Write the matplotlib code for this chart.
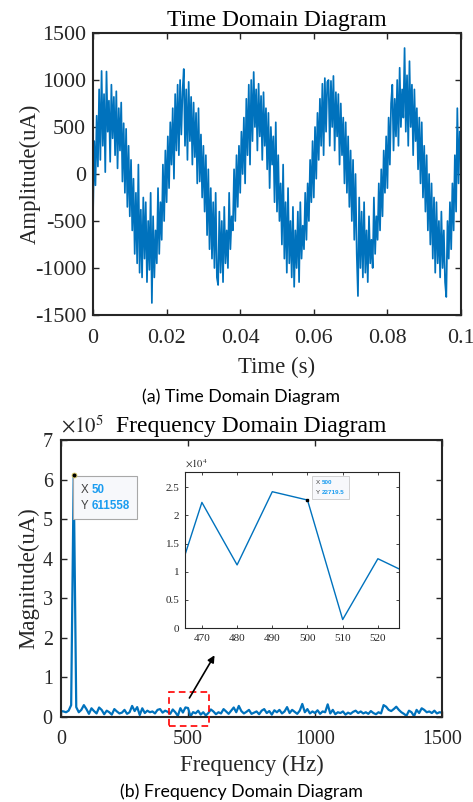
import numpy as np
import matplotlib
matplotlib.use('Agg')
import matplotlib.pyplot as plt
from matplotlib.patches import Rectangle
from matplotlib.ticker import FuncFormatter

# ---------------- data ----------------
# time-domain samples (uA), 3000 Hz sampling over 0.1 s
amplitude = [
    -450, 350, -120, 620, 80, 900, 150, 1096, 300, 850,
    20, 1090, 450, 780, 130, 950, 380, 820, 200, 880,
    60, 700, 250, 760, -80, 540, -200, 480, -350, 300,
    -450, 150, -600, -50, -850, -200, -950, 100, -1050, -380,
    -1100, -250, -900, -300, -1150, -500, -1020, -200, -1372, -450,
    -1100, -600, -950, -150, -850, -300, -700, 100, -500, 250,
    -300, 400, -150, 550, 100, 700, -50, 850, 250, 950,
    200, 1000, 420, 880, 1117, 300, 900, 150, 980, 350,
    820, 100, 760, 180, 650, -100, 700, -80, 420, -250,
    300, -400, 200, -650, 50, -800, -150, -900, -300, -1000,
    -200, -1100, -1181, -400, -1050, -500, -1150, -350, -950, -600,
    -1000, -200, -800, -450, -600, 50, -500, 200, -350, 300,
    -200, 450, 0, 600, -100, 800, 200, 950, 100, 1000,
    350, 1085, 500, 900, 250, 960, 400, 830, 150, 870,
    300, 700, 50, 650, -150, 500, 100, 400, -300, 550,
    -400, 200, -500, -100, -750, 100, -900, -300, -1050, -150,
    -950, -500, -1100, -350, -1200, -600, -1000, -400, -1150, -300,
    -900, -550, -800, -200, -700, -100, -500, 150, -300, 350,
    -250, 500, -50, 650, 150, 800, 300, 960, 200, 1020,
    450, 980, 1000, 300, 990, 500, 1043, 250, 870, 400,
    850, 100, 750, 200, 600, -100, 550, -200, 400, -350,
    250, -500, 150, -700, 0, -850, -1298, -250, -1000, -400,
    -1100, -300, -1050, -600, -1150, -450, -950, -700, -1000, -250,
    -850, -450, -700, -100, -600, 50, -450, 250, -200, 400,
    -150, 600, 100, 750, 950, 250, 800, 400, 1000, 300,
    1130, 500, 900, 600, 1340, 450, 1050, 300, 1200, 500,
    950, 200, 900, 350, 700, 50, 600, -100, 550, -250,
    300, -400, 200, -600, 0, -750, -100, -900, -250, -1050,
    -300, -950, -500, -1100, -400, -1000, -600, -1150, -1308, -500,
    -900, -300, -800, -100, -600, 200, -400, 700, -100, 450,
]
sample_rate = 3000

# single-sided spectrum magnitude (uA), 10 Hz resolution, 0..1500 Hz
fft_mag = [
    15000, 14000, 12000, 16000, 30000, 611558, 25000, 12000, 18000, 30000,
    20000, 8000, 22000, 15000, 9000, 24000, 18000, 7000, 16000, 12000,
    6000, 20000, 14000, 9000, 11000, 18000, 8000, 12000, 28000, 15000,
    25000, 5000, 22000, 10000, 16000, 12000, 14000, 9000, 18000, 20000,
    11000, 16000, 13000, 8000, 19000, 12000, 2900, 22300, 11200, 24200,
    22720, 1500, 12300, 9300, 16000, 6000, 12000, 4000, 10000, 19000,
    14000, 7000, 12000, 9000, 20000, 14000, 8000, 16000, 24000, 12000,
    28000, 15000, 9000, 13000, 18000, 8000, 11000, 14000, 7000, 16000,
    20000, 10000, 15000, 6000, 17000, 12000, 18000, 9000, 14000, 25000,
    10000, 18000, 13000, 8000, 16000, 33000, 12000, 20000, 9000, 14000,
    10000, 17000, 8000, 14000, 12000, 32000, 9000, 18000, 7000, 12000,
    10000, 14000, 6000, 11000, 8000, 13000, 16000, 10000, 14000, 9000,
    12000, 8000, 15000, 10000, 7000, 12000, 9000, 30000, 26000, 18000,
    15000, 20000, 26000, 18000, 12000, 8000, 3000, 16000, 12000, 2000,
    18000, 10000, 22000, 18000, 12000, 14000, 10000, 16000, 9000, 12000,
    11000,
]
freq_step = 10

time_ticks = [0, 0.02, 0.04, 0.06, 0.08, 0.1]
time_ticklabels = ['0', '0.02', '0.04', '0.06', '0.08', '0.1']
amp_ticks = [-1500, -1000, -500, 0, 500, 1000, 1500]
freq_ticks = [0, 500, 1000, 1500]
mag_ticks = [0, 1e5, 2e5, 3e5, 4e5, 5e5, 6e5, 7e5]
inset_xticks = [470, 480, 490, 500, 510, 520]
inset_yticks = [0, 5000, 10000, 15000, 20000, 25000]
tip_main = (50, 611558)
tip_inset = (500, 22719.5)

t = np.arange(len(amplitude)) / sample_rate
freq = np.arange(len(fft_mag)) * freq_step

# ---------------- style ----------------
W, H = 473, 802
SERIF = ['Liberation Serif', 'DejaVu Serif']
plt.rcParams['font.family'] = SERIF
plt.rcParams['mathtext.fontset'] = 'stix'
plt.rcParams['axes.unicode_minus'] = False
BLUE = '#0072BD'
DARK = '#262626'

fig = plt.figure(figsize=(W / 100, H / 100), dpi=100)


def px_axes(l, t_, r, b):
    return [l / W, 1 - b / H, (r - l) / W, (b - t_) / H]


def style_axes(ax, lw=1.5, size=4, width=1.0):
    for s in ax.spines.values():
        s.set_linewidth(lw)
        s.set_color(DARK)
    ax.tick_params(direction='in', top=True, right=True, length=size,
                   width=width, colors=DARK)


# ---------- top: time domain ----------
ax1 = fig.add_axes(px_axes(93, 33, 461, 315))
ax1.plot(t, amplitude, color=BLUE, lw=1.25)
ax1.set_xlim(0, 0.1)
ax1.set_ylim(-1500, 1500)
ax1.set_xticks(time_ticks)
ax1.set_xticklabels(time_ticklabels)
ax1.set_yticks(amp_ticks)
style_axes(ax1)
ax1.tick_params(axis='both', labelsize=15.8, labelcolor=DARK)
ax1.tick_params(axis='x', pad=10)
ax1.tick_params(axis='y', pad=5)
ax1.set_title('Time Domain Diagram', fontsize=17, pad=5, color='black')
ax1.set_xlabel('Time (s)', fontsize=16.4, color=DARK)
ax1.set_ylabel('Amplitude(uA)', fontsize=16.4, color=DARK)
ax1.xaxis.set_label_coords(0.5, -0.149)
ax1.yaxis.set_label_coords(-0.142, 0.5)

fig.text(241 / W, 1 - 397 / H, '(a) Time Domain Diagram', family='Lato',
         fontsize=12.8, ha='center', va='center', color='black')

# ---------- bottom: frequency domain ----------
ax2 = fig.add_axes(px_axes(61, 440, 442, 717))
ax2.plot(freq, fft_mag, color=BLUE, lw=1.6)
ax2.set_xlim(0, 1500)
ax2.set_ylim(0, 7e5)
ax2.set_xticks(freq_ticks)
ax2.set_yticks(mag_ticks)
ax2.yaxis.set_major_formatter(FuncFormatter(lambda v, p: f'{v / 1e5:g}'))
style_axes(ax2)
ax2.tick_params(axis='both', labelsize=14.4, labelcolor=DARK)
ax2.tick_params(axis='x', pad=9)
ax2.tick_params(axis='y', pad=6)
ax2.set_title('Frequency Domain Diagram', fontsize=17, pad=5.5, color='black')
ax2.set_xlabel('Frequency (Hz)', fontsize=16.4, color=DARK)
ax2.set_ylabel('Magnitude(uA)', fontsize=16.4, color=DARK)
ax2.xaxis.set_label_coords(0.5, -0.137)
ax2.yaxis.set_label_coords(-0.058, 0.5)
ax2.text(0.0, 1.01, r'$\times10^5$', transform=ax2.transAxes, fontsize=15,
         ha='left', va='bottom', color=DARK)

# data tip on main peak
ax2.plot(*tip_main, 'o', ms=3.5, color='black', mec='#d8c860', mew=0.6, zorder=5)
ax2.add_patch(Rectangle((0.0315, 0.715), 0.168, 0.155, transform=ax2.transAxes,
                        facecolor='#f7f8fb', edgecolor='#a8a8a8', lw=0.8, zorder=4))
for yy, lab, val in [(0.818, 'X', f'{tip_main[0]:g}'), (0.76, 'Y', f'{tip_main[1]:g}')]:
    ax2.text(0.052, yy, lab, transform=ax2.transAxes, family='Liberation Sans',
             fontsize=8.3, color='#404040', va='center', zorder=6)
    ax2.text(0.0815, yy, val, transform=ax2.transAxes, family='Liberation Sans',
             fontsize=8.3, color='#1a9cf0', fontweight='bold', va='center', zorder=6)

# zoom box and arrow
ax2.add_patch(Rectangle((425, -22000), 158, 84500, fill=False, ec='red',
                        ls=(0, (4, 2.5)), lw=1.2, clip_on=False, zorder=6))
ax2.annotate('', xy=(610, 162000), xytext=(500, 42000),
             arrowprops=dict(arrowstyle='-|>', color='black', lw=1.2,
                             mutation_scale=10), zorder=6)

fig.text(241 / W, 1 - 792 / H, '(b) Frequency Domain Diagram', family='Lato',
         fontsize=12.8, ha='center', va='center', color='black')

# ---------- inset ----------
ax3 = fig.add_axes(px_axes(185, 472, 399, 628))
ax3.plot(freq, fft_mag, color=BLUE, lw=1.0)
ax3.set_xlim(465.2, 526)
ax3.set_ylim(0, 27700)
ax3.set_xticks(inset_xticks)
ax3.set_yticks(inset_yticks)
ax3.yaxis.set_major_formatter(FuncFormatter(lambda v, p: f'{v / 1e4:g}'))
style_axes(ax3, lw=0.8, size=2.5, width=0.6)
ax3.tick_params(axis='both', labelsize=8, labelcolor=DARK, pad=4)
ax3.text(0.0, 1.01, r'$\times10^4$', transform=ax3.transAxes, fontsize=7.5,
         ha='left', va='bottom', color=DARK)
ax3.plot(*tip_inset, 's', ms=1.5, color='black', zorder=5)
ax3.add_patch(Rectangle((0.593, 0.827), 0.173, 0.147, transform=ax3.transAxes,
                        facecolor='#f7f8fb', edgecolor='#c0c0c0', lw=0.5, zorder=4))
for yy, lab, val in [(0.93, 'X', f'{tip_inset[0]:g}'), (0.87, 'Y', f'{tip_inset[1]:g}')]:
    ax3.text(0.61, yy, lab, transform=ax3.transAxes, family='Liberation Sans',
             fontsize=4.5, color='#404040', va='center', zorder=6)
    ax3.text(0.64, yy, val, transform=ax3.transAxes, family='Liberation Sans',
             fontsize=4.5, color='#1a9cf0', fontweight='bold', va='center', zorder=6)

fig.savefig('out.png', dpi=100)
